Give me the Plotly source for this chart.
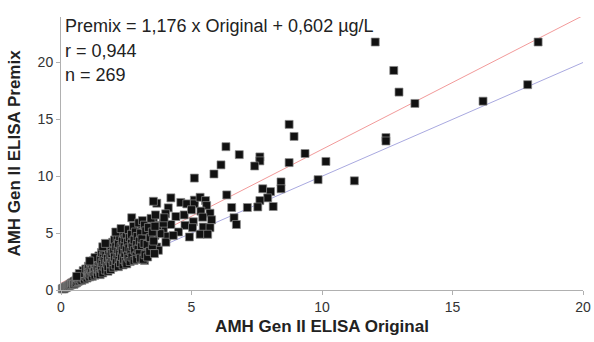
import plotly.graph_objects as go

# Original (x) and Premix (y) values
original = [
    # outliers and sparse region
    12.04, 12.75, 12.95, 13.56, 18.28, 17.88, 16.17, 12.45, 12.45, 11.24, 10.15,
    8.74, 8.93, 6.83, 7.62, 7.62, 7.42, 9.35, 8.74, 9.85, 8.43, 8.43, 7.73, 8.03,
    7.92, 7.62, 7.54, 7.14, 8.13, 6.54, 6.63, 6.72, 6.13, 5.86, 5.11, 6.35, 6.32,
    4.21, 4.59, 4.82, 5.11, 5.11, 5.33, 5.54, 5.58, 4.11, 4.01, 4.40, 4.72, 5.00,
    5.36, 5.71, 5.43, 5.77, 5.07, 4.75, 4.21, 3.92, 5.04, 5.45, 5.71, 4.92, 5.33,
    5.62, 4.05, 4.02, 3.67, 3.54, 2.71, 3.54, 3.70, 3.92, 3.15, 3.60, 3.79, 3.67,
    3.28, 3.15, 2.95, 3.20, 2.63, 3.20, 2.82, 3.28, 3.73, 3.54, 3.95, 4.50, 4.30,
    # dense cluster
    0.05, 0.08, 0.10, 0.12, 0.15, 0.18, 0.20, 0.22, 0.25, 0.28, 0.30, 0.32, 0.35,
    0.38, 0.40, 0.42, 0.45, 0.48, 0.50, 0.50,
    0.55, 0.55, 0.60, 0.60, 0.62, 0.65, 0.68, 0.70, 0.72, 0.75, 0.78, 0.80, 0.82,
    0.85, 0.88, 0.90, 0.92, 0.95, 0.98, 1.00, 0.85, 0.70, 0.95, 0.60,
    1.02, 1.05, 1.05, 1.08, 1.10, 1.12, 1.15, 1.15, 1.18, 1.20, 1.22, 1.25, 1.25,
    1.28, 1.30, 1.32, 1.35, 1.38, 1.38, 1.40, 1.42, 1.45, 1.45, 1.48, 1.50, 1.50,
    1.30, 1.10,
    1.52, 1.55, 1.55, 1.58, 1.60, 1.62, 1.65, 1.65, 1.68, 1.70, 1.72, 1.75, 1.75,
    1.78, 1.80, 1.80, 1.82, 1.85, 1.85, 1.88, 1.90, 1.90, 1.92, 1.95, 1.95, 1.98,
    2.00, 2.00, 1.60, 1.70,
    2.02, 2.05, 2.05, 2.08, 2.10, 2.12, 2.15, 2.15, 2.18, 2.20, 2.20, 2.22, 2.25,
    2.25, 2.28, 2.30, 2.32, 2.35, 2.35, 2.38, 2.40, 2.40, 2.42, 2.45, 2.45, 2.48,
    2.50, 2.50, 2.10, 2.30,
    2.52, 2.55, 2.55, 2.58, 2.60, 2.60, 2.62, 2.65, 2.68, 2.70, 2.70, 2.72, 2.75,
    2.78, 2.80, 2.80, 2.82, 2.85, 2.88, 2.90, 2.90, 2.92, 2.95, 2.98, 3.00, 3.00,
    3.05, 3.05, 3.08, 3.10, 3.12, 3.15, 3.18, 3.20, 3.22, 3.25, 3.30, 3.32, 3.35,
    3.40, 3.42, 3.45, 3.50, 3.50, 3.55, 3.58, 3.60, 3.62,
]
premix = [
    21.80, 19.30, 17.40, 16.40, 21.80, 18.05, 16.60, 13.40, 13.10, 9.60, 11.30,
    14.56, 13.50, 11.90, 11.70, 11.35, 10.90, 12.00, 11.20, 9.70, 9.50, 8.90, 8.90, 8.65,
    8.10, 7.86, 7.30, 7.25, 7.34, 7.25, 6.35, 5.76, 11.00, 10.20, 9.84, 8.36, 12.60,
    8.10, 7.70, 7.57, 7.90, 7.57, 8.15, 7.86, 7.42, 7.22, 6.70, 6.46, 6.60, 7.05,
    6.93, 6.75, 6.40, 6.17, 6.00, 5.68, 5.76, 5.24, 5.48, 5.53, 5.48, 4.66, 4.90,
    4.90, 4.72, 4.20, 7.63, 7.80, 6.35, 6.10, 5.68, 5.88, 4.80, 4.80, 4.95, 3.78,
    3.64, 3.35, 5.68, 5.40, 5.24, 2.60, 3.20, 4.43, 3.49, 5.00, 6.35, 5.10, 4.80,
    # dense cluster
    0.10, 0.12, 0.15, 0.10, 0.22, 0.20, 0.30, 0.25, 0.35, 0.30, 0.42, 0.38, 0.50,
    0.45, 0.60, 0.50, 0.65, 0.55, 0.75, 0.50,
    0.80, 0.60, 0.90, 0.65, 1.10, 0.75, 1.00, 0.80, 1.25, 0.95, 1.15, 0.85, 1.40,
    1.05, 1.30, 0.95, 1.60, 1.20, 1.45, 1.05, 1.70, 1.45, 1.85, 1.20,
    1.75, 1.30, 2.10, 1.55, 1.15, 1.90, 2.40, 1.40, 1.70, 1.20, 2.20, 1.55, 2.60,
    1.90, 1.30, 2.30, 1.65, 2.75, 2.05, 1.40, 1.85, 2.50, 3.00, 1.60, 2.20, 1.35,
    2.85, 2.55,
    2.70, 1.90, 3.30, 2.40, 1.50, 2.95, 2.10, 3.50, 2.60, 1.75, 3.20, 2.35, 3.75,
    2.80, 1.65, 2.05, 3.45, 2.55, 4.00, 3.00, 1.80, 2.30, 3.70, 2.75, 3.20, 4.20,
    2.00, 2.50, 3.80, 4.10,
    3.40, 2.90, 4.40, 2.20, 3.80, 2.60, 3.10, 4.60, 3.55, 2.05, 4.10, 2.80, 3.30,
    4.70, 2.40, 3.80, 2.95, 4.30, 3.50, 2.20, 5.00, 2.70, 3.90, 3.20, 4.50, 2.50,
    3.60, 4.90, 5.10, 5.40,
    2.30, 4.20, 3.00, 5.30, 2.80, 3.70, 4.60, 2.50, 3.40, 4.90, 4.10, 2.90, 3.80,
    5.60, 2.60, 4.40, 3.50, 5.10, 3.00, 4.00, 2.70, 4.70, 3.60, 5.90, 3.20, 4.30,
    5.00, 2.80, 3.90, 4.50, 6.10, 2.70, 4.10, 5.70, 3.10, 5.20, 4.00, 2.90, 5.50,
    3.40, 4.60, 6.30, 3.90, 5.10, 4.30, 3.20, 5.60, 6.60,
]

slope = 1.176
intercept = 0.602
line_x = [0, 20]
fit_y = [slope * v + intercept for v in line_x]
identity_y = [v for v in line_x]

annot_lines = ["Premix = 1,176 x Original + 0,602 µg/L", "r = 0,944", "n = 269"]
x_title = "AMH Gen II ELISA Original"
y_title = "AMH Gen II ELISA Premix"
tick_vals = [0, 5, 10, 15, 20]

font = "Liberation Sans, Arial, sans-serif"

fig = go.Figure()
fig.add_trace(go.Scatter(x=line_x, y=identity_y, mode="lines",
                         line=dict(color="#a9a9e0", width=1), hoverinfo="skip"))
fig.add_trace(go.Scatter(x=line_x, y=fit_y, mode="lines",
                         line=dict(color="#f29a9a", width=1), hoverinfo="skip"))
fig.add_trace(go.Scatter(x=original, y=premix, mode="markers", cliponaxis=False,
                         marker=dict(symbol="square", size=8, color="#111111",
                                     line=dict(color="#8a8a8a", width=0.7))))

for i, txt in enumerate(annot_lines):
    fig.add_annotation(text=txt, xref="paper", yref="paper", x=0.003,
                       y=[0.966, 0.874, 0.786][i], xanchor="left", yanchor="middle",
                       showarrow=False, font=dict(family=font, size=18, color="#222"))

fig.update_layout(
    width=594, height=342, showlegend=False,
    margin=dict(l=61, r=11, t=17, b=52),
    paper_bgcolor="white", plot_bgcolor="white",
    font=dict(family=font, size=14, color="#333"),
)
fig.update_xaxes(range=[0, 20], tickvals=tick_vals, showgrid=False, zeroline=False,
                 automargin=False,
                 showline=True, linecolor="#b0b0b0", linewidth=1,
                 ticks="outside", ticklen=4, tickcolor="#b0b0b0",
                 tickfont=dict(size=14, color="#333"),
                 title=dict(text="<b>" + x_title + "</b>", standoff=6,
                            font=dict(size=17, color="#222")))
fig.update_yaxes(range=[0, 24], tickvals=tick_vals, showgrid=False, zeroline=False,
                 automargin=False,
                 showline=True, linecolor="#b0b0b0", linewidth=1,
                 ticks="outside", ticklen=4, tickcolor="#b0b0b0",
                 tickfont=dict(size=14, color="#333"),
                 title=dict(text="<b>" + y_title + "</b>", standoff=12,
                            font=dict(size=17, color="#222")))

fig.write_html("out.html", config={"displayModeBar": False},
               post_script="document.body.style.margin='0';document.body.style.padding='0';")
